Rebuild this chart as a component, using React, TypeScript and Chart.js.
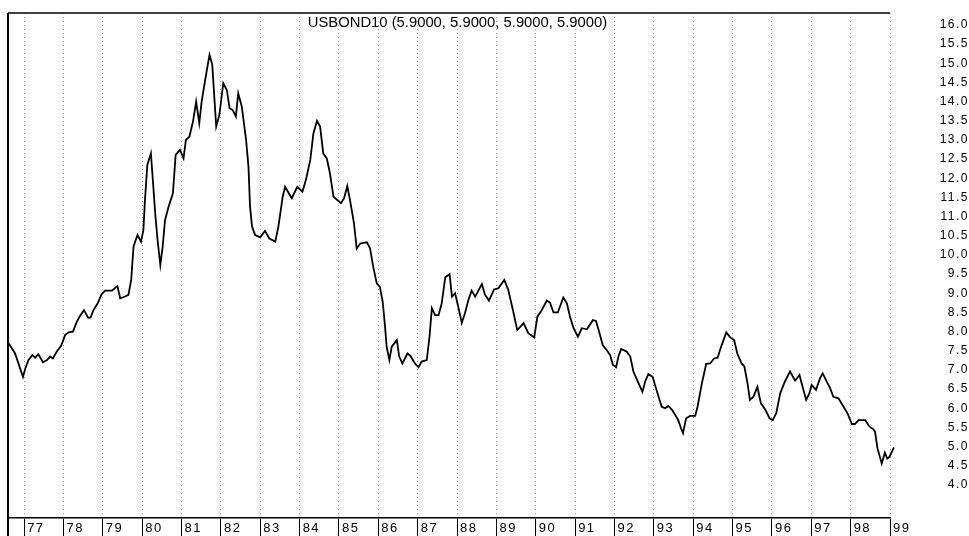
import { useEffect, useRef } from "react";
import { Chart, registerables } from "chart.js";

Chart.register(...registerables);

const SERIES_NAME = "USBOND10";
const TITLE_VALUES = [5.9, 5.9, 5.9, 5.9];

const YEAR_TICKS = [
  1977, 1978, 1979, 1980, 1981, 1982, 1983, 1984, 1985, 1986, 1987, 1988,
  1989, 1990, 1991, 1992, 1993, 1994, 1995, 1996, 1997, 1998, 1999,
];
const Y_TICKS = [
  4.0, 4.5, 5.0, 5.5, 6.0, 6.5, 7.0, 7.5, 8.0, 8.5, 9.0, 9.5, 10.0, 10.5,
  11.0, 11.5, 12.0, 12.5, 13.0, 13.5, 14.0, 14.5, 15.0, 15.5, 16.0,
];

const X_MIN = 1976.59;
const X_MAX = 1999.0;
const Y_MIN = 3.138;
const Y_MAX = 16.313;

// decimal-year dates of the traced vertices
const DATES = [
  1976.58, 1976.77, 1976.97, 1977.03, 1977.11, 1977.21, 1977.28, 1977.36, 1977.48, 1977.58,
  1977.66, 1977.73, 1977.83, 1977.94, 1978.04, 1978.13, 1978.24, 1978.34, 1978.42, 1978.52,
  1978.63, 1978.69, 1978.76, 1978.87, 1978.97, 1979.06, 1979.23, 1979.37, 1979.44, 1979.55,
  1979.65, 1979.72, 1979.78, 1979.88, 1979.97, 1980.03, 1980.07, 1980.13, 1980.22, 1980.27,
  1980.33, 1980.39, 1980.46, 1980.52, 1980.58, 1980.67, 1980.78, 1980.85, 1980.96, 1981.05,
  1981.11, 1981.2, 1981.29, 1981.37, 1981.45, 1981.51, 1981.6, 1981.71, 1981.78, 1981.88,
  1981.96, 1982.06, 1982.15, 1982.22, 1982.3, 1982.38, 1982.44, 1982.53, 1982.64, 1982.7,
  1982.74, 1982.79, 1982.87, 1983.0, 1983.12, 1983.23, 1983.38, 1983.46, 1983.57, 1983.63,
  1983.8, 1983.94, 1984.07, 1984.16, 1984.27, 1984.35, 1984.44, 1984.52, 1984.6, 1984.69,
  1984.77, 1984.86, 1985.05, 1985.13, 1985.21, 1985.28, 1985.38, 1985.45, 1985.54, 1985.71,
  1985.79, 1985.87, 1985.96, 1986.04, 1986.11, 1986.17, 1986.21, 1986.28, 1986.34, 1986.47,
  1986.53, 1986.61, 1986.74, 1986.82, 1986.93, 1987.02, 1987.1, 1987.23, 1987.3, 1987.36,
  1987.44, 1987.53, 1987.61, 1987.7, 1987.81, 1987.87, 1987.95, 1988.03, 1988.12, 1988.2,
  1988.29, 1988.37, 1988.46, 1988.63, 1988.71, 1988.81, 1988.94, 1989.05, 1989.2, 1989.3,
  1989.42, 1989.53, 1989.69, 1989.81, 1989.96, 1990.04, 1990.15, 1990.28, 1990.36, 1990.45,
  1990.56, 1990.7, 1990.79, 1990.87, 1990.96, 1991.07, 1991.17, 1991.3, 1991.45, 1991.53,
  1991.62, 1991.7, 1991.8, 1991.89, 1991.96, 1992.04, 1992.1, 1992.17, 1992.31, 1992.4,
  1992.48, 1992.59, 1992.71, 1992.78, 1992.86, 1992.97, 1993.03, 1993.12, 1993.2, 1993.29,
  1993.37, 1993.46, 1993.54, 1993.62, 1993.69, 1993.74, 1993.82, 1993.92, 1994.05, 1994.11,
  1994.22, 1994.33, 1994.43, 1994.53, 1994.62, 1994.71, 1994.84, 1994.94, 1995.04, 1995.12,
  1995.23, 1995.3, 1995.38, 1995.44, 1995.53, 1995.63, 1995.72, 1995.83, 1995.94, 1996.02,
  1996.11, 1996.21, 1996.33, 1996.46, 1996.59, 1996.7, 1996.8, 1996.87, 1996.95, 1997.01,
  1997.12, 1997.22, 1997.29, 1997.39, 1997.48, 1997.56, 1997.69, 1997.82, 1997.92, 1998.03,
  1998.11, 1998.2, 1998.37, 1998.48, 1998.58, 1998.62, 1998.68, 1998.79, 1998.87, 1998.93,
  1998.99, 1999.1,
];

// 10-year bond yield (%) at each date above
const YIELDS = [
  7.74, 7.43, 6.82, 7.04, 7.26, 7.39, 7.32, 7.41, 7.2, 7.26,
  7.35, 7.3, 7.48, 7.63, 7.91, 7.98, 8.0, 8.26, 8.41, 8.56,
  8.36, 8.37, 8.56, 8.74, 8.98, 9.07, 9.07, 9.19, 8.87, 8.91,
  8.96, 9.35, 10.22, 10.52, 10.35, 10.65, 11.43, 12.35, 12.65, 11.96,
  11.09, 10.39, 9.74, 10.22, 10.91, 11.26, 11.61, 12.61, 12.74, 12.52,
  13.0, 13.09, 13.48, 14.0, 13.44, 14.0, 14.57, 15.22, 14.96, 13.35,
  13.65, 14.48, 14.3, 13.83, 13.78, 13.61, 14.22, 13.87, 13.0, 12.3,
  11.26, 10.74, 10.52, 10.46, 10.63, 10.43, 10.35, 10.74, 11.52, 11.78,
  11.48, 11.78, 11.65, 11.96, 12.48, 13.17, 13.5, 13.35, 12.65, 12.52,
  12.13, 11.52, 11.35, 11.48, 11.8, 11.43, 10.83, 10.17, 10.3, 10.33,
  10.17, 9.69, 9.26, 9.17, 8.78, 8.13, 7.61, 7.26, 7.61, 7.78,
  7.35, 7.17, 7.43, 7.36, 7.17, 7.07, 7.22, 7.26, 7.87, 8.61,
  8.43, 8.43, 8.74, 9.42, 9.5, 8.91, 9.0, 8.65, 8.23, 8.48,
  8.83, 9.07, 8.91, 9.24, 8.96, 8.81, 9.1, 9.13, 9.35, 9.09,
  8.56, 8.04, 8.22, 7.96, 7.85, 8.39, 8.56, 8.81, 8.76, 8.5,
  8.5, 8.89, 8.74, 8.39, 8.09, 7.87, 8.09, 8.06, 8.3, 8.28,
  7.96, 7.65, 7.52, 7.39, 7.13, 7.07, 7.35, 7.55, 7.48, 7.35,
  6.96, 6.7, 6.43, 6.7, 6.89, 6.82, 6.61, 6.3, 6.04, 6.0,
  6.06, 5.96, 5.83, 5.69, 5.48, 5.35, 5.74, 5.8, 5.8, 6.04,
  6.65, 7.16, 7.17, 7.3, 7.32, 7.61, 7.98, 7.85, 7.78, 7.43,
  7.17, 7.09, 6.65, 6.22, 6.3, 6.56, 6.13, 5.97, 5.74, 5.69,
  5.87, 6.39, 6.7, 6.96, 6.72, 6.87, 6.48, 6.22, 6.39, 6.61,
  6.48, 6.78, 6.91, 6.7, 6.52, 6.3, 6.26, 6.04, 5.87, 5.59,
  5.59, 5.69, 5.69, 5.52, 5.45, 5.39, 4.96, 4.56, 4.84, 4.69,
  4.74, 4.98,
];

const framePlugin = {
  id: "frame",
  beforeDraw(chart: any) {
    chart.ctx.letterSpacing = "1.5px";
  },
  afterDraw(chart: any) {
    const { ctx, chartArea } = chart;
    ctx.save();
    ctx.letterSpacing = "0px";
    ctx.strokeStyle = "#000";
    // left frame line, running down through the label strip
    ctx.lineWidth = 2;
    ctx.beginPath();
    ctx.moveTo(chartArea.left, chartArea.top);
    ctx.lineTo(chartArea.left, chart.height);
    ctx.stroke();
    // top frame line
    ctx.lineWidth = 1.5;
    ctx.beginPath();
    ctx.moveTo(chartArea.left, chartArea.top);
    ctx.lineTo(chartArea.right, chartArea.top);
    ctx.stroke();
    // series caption
    const caption =
      SERIES_NAME + " (" + TITLE_VALUES.map((v) => v.toFixed(4)).join(", ") + ")";
    ctx.fillStyle = "#000";
    ctx.font = "14.8px 'Liberation Sans', Arial, sans-serif";
    ctx.textAlign = "center";
    ctx.textBaseline = "alphabetic";
    ctx.fillText(caption, 457.5, chartArea.top + 14);
    ctx.restore();
  },
};

export default function App() {
  const ref = useRef<HTMLCanvasElement>(null);
  useEffect(() => {
    document.body.style.margin = "0";
    const canvas = ref.current;
    if (!canvas) return;
    const chart = new Chart(canvas, {
      type: "line",
      data: {
        datasets: [
          {
            label: SERIES_NAME,
            data: DATES.map((d, i) => ({ x: d, y: YIELDS[i] })),
            borderColor: "#000",
            borderWidth: 1.8,
            pointRadius: 0,
            tension: 0,
            fill: false,
            clip: false as any,
          },
        ],
      },
      options: {
        animation: false,
        responsive: false,
        maintainAspectRatio: false,
        events: [],
        layout: { padding: { left: 8, top: 13, right: 0, bottom: 0 } },
        plugins: {
          legend: { display: false },
          tooltip: { enabled: false },
          title: { display: false },
        },
        scales: {
          x: {
            type: "linear",
            min: X_MIN,
            max: X_MAX,
            afterBuildTicks: (s: any) => {
              s.ticks = YEAR_TICKS.map((v) => ({ value: v }));
            },
            afterFit: (s: any) => {
              s.height = 18;
            },
            grid: {
              display: true,
              drawOnChartArea: true,
              drawTicks: true,
              color: "#999999",
              lineWidth: 1,
              tickLength: 18,
              tickColor: "#000",
              tickWidth: 1,
              tickBorderDash: [],
            },
            border: { display: true, color: "#000", width: 1.5, dash: [1, 3] },
            ticks: {
              autoSkip: false,
              maxRotation: 0,
              minRotation: 0,
              align: "start",
              labelOffset: 3,
              padding: -15,
              color: "#000",
              font: { family: "'Liberation Sans', Arial, sans-serif", size: 13 },
              callback: (v: any) => String(v).slice(2),
            },
          },
          y: {
            type: "linear",
            position: "right",
            min: Y_MIN,
            max: Y_MAX,
            afterBuildTicks: (s: any) => {
              s.ticks = Y_TICKS.map((v) => ({ value: v }));
            },
            afterFit: (s: any) => {
              s.width = 79;
            },
            grid: { display: false },
            border: { display: false },
            ticks: {
              autoSkip: false,
              crossAlign: "far",
              color: "#000",
              font: { family: "'Liberation Sans', Arial, sans-serif", size: 12 },
              callback: (v: any) => Number(v).toFixed(1),
            },
          },
        },
      } as any,
      plugins: [framePlugin],
    });
    return () => chart.destroy();
  }, []);
  return (
    <div style={{ width: 969, height: 536, background: "#fff" }}>
      <canvas ref={ref} width={969} height={536} style={{ display: "block" }} />
    </div>
  );
}
